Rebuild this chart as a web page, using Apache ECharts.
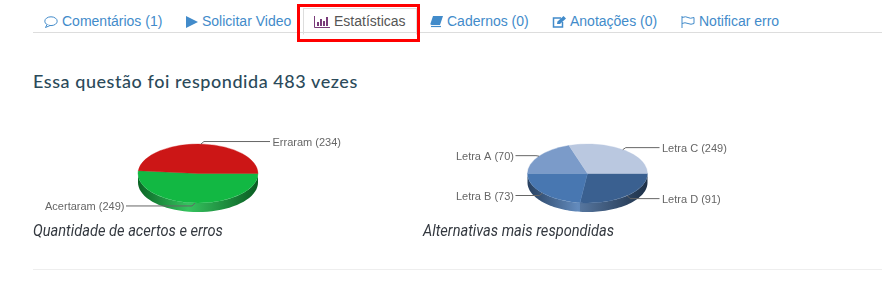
<!DOCTYPE html>
<html>
<head>
<meta charset="utf-8">
<title>Estatísticas</title>
<script src="https://cdn.jsdelivr.net/npm/echarts@6/dist/echarts.min.js"></script>
<style>
html, body { margin: 0; padding: 0; background: #fff; }
body { width: 882px; height: 287px; overflow: hidden; position: relative; font-family: "Liberation Sans", Arial, sans-serif; }
#chart { position: absolute; left: 0; top: 0; width: 882px; height: 287px; }
.tab { position: absolute; top: 12px; font-size: 14px; line-height: 18px; color: #428bca; white-space: nowrap; }
.tab svg { vertical-align: -2px; margin-right: 4px; }
.line { position: absolute; left: 33px; right: 0; height: 1px; }
#active { position: absolute; left: 303px; top: 8px; width: 112px; height: 25px; border: 1px solid #ddd; border-bottom: 1px solid #fff; }
#redbox { position: absolute; left: 297px; top: 4px; width: 117px; height: 32px; border: 3px solid #f00; }
h4 { position: absolute; left: 33px; top: 70px; margin: 0; font: 500 18px Lato, sans-serif; letter-spacing: 0.56px; color: #2b4a5a; white-space: nowrap; }
.caption { position: absolute; top: 220px; font: italic 17px Roboto, sans-serif; color: #33383f; white-space: nowrap; transform: scaleX(0.86); transform-origin: left center; }
</style>
</head>
<body>
<div class="line" style="top:32px;background:#ddd"></div>
<div class="line" style="top:269px;background:#eee"></div>
<div id="active"></div>
<div id="redbox"></div>
<div class="tab" style="left:44px"><svg width="14" height="12" viewBox="0 0 14 12"><ellipse cx="7" cy="5.2" rx="6.2" ry="4.4" fill="none" stroke="#428bca"/><path d="M3 8.5L1.5 11.5L6 9.5" fill="#fff" stroke="#428bca"/></svg>Comentários (1)</div>
<div class="tab" style="left:186px"><svg width="12" height="12" viewBox="0 0 12 12"><path d="M0 0L12 6L0 12Z" fill="#428bca"/></svg>Solicitar Video</div>
<div class="tab" style="left:314px;color:#555"><svg width="16" height="12" viewBox="0 0 16 12"><path d="M0.5 0V11.5H16" fill="none" stroke="#7a3b7a"/><path d="M3 6h2v4H3zM6 3h2v7H6zM9 5h2v5H9zM12 1h2v9h-2z" fill="#7a3b7a"/></svg>Estatísticas</div>
<div class="tab" style="left:430px"><svg width="13" height="12" viewBox="0 0 13 12"><path d="M3 0H13L10 9H2Q0 9 .5 7.5Z" fill="#428bca"/><path d="M1 10.5H11" stroke="#428bca" stroke-width="1.2"/></svg>Cadernos (0)</div>
<div class="tab" style="left:552px"><svg width="14" height="12" viewBox="0 0 14 12"><path d="M9 2H1.5V11H10.5V6" fill="none" stroke="#428bca" stroke-width="1.5"/><path d="M5 8L5.5 5.5L11.5 0L14 2.5L8 8Z" fill="#428bca"/></svg>Anotações (0)</div>
<div class="tab" style="left:681px"><svg width="14" height="12" viewBox="0 0 14 12"><path d="M1 0V12M1 1.5Q5 0 7 1.5T13 1.5V7.5Q10 9 7 7.5T1 7.5" fill="none" stroke="#428bca"/></svg>Notificar erro</div>
<h4>Essa questão foi respondida 483 vezes</h4>
<div id="chart"></div>
<script>
// contagens escritas nos rotulos
var resultNames = ['Acertaram', 'Erraram'];
var resultCounts = [249, 234];
var resultShares = [249, 234];
var resultColors = ['#12b843', '#cc1616'];

var letterNames = ['Letra D', 'Letra B', 'Letra A', 'Letra C'];
var letterCounts = [91, 73, 70, 249];
// o desenho nao segue os rotulos: fatias, em %
var letterShares = [27, 23, 20, 30];
var letterColors = ['#3a6090', '#4877b1', '#7b9bc9', '#bac8e0'];

var captions = ['Quantidade de acertos e erros', 'Alternativas mais respondidas'];

var RX = 60, RY = 29.5, DEPTH = 9, CY = 173.5;

function shade(hex, k) {
    var c = echarts.color.parse(hex);
    var f = function (v) { return Math.round(k < 1 ? v * k : v + (255 - v) * (k - 1)); };
    return 'rgb(' + f(c[0]) + ',' + f(c[1]) + ',' + f(c[2]) + ')';
}

function wallPoints(cx, a0, a1) {
    var top = [], bottom = [];
    for (var i = 0; i <= 40; i++) {
        var a = a0 + (a1 - a0) * i / 40;
        var x = cx + RX * Math.cos(a), y = CY + RY * Math.sin(a);
        top.push([x, y]);
        bottom.unshift([x, y + DEPTH]);
    }
    return top.concat(bottom);
}

function pieSeries(names, counts, shares, colors, cx, lift) {
    var total = shares.reduce(function (a, b) { return a + b; }, 0);
    return {
        type: 'custom',
        coordinateSystem: 'none',
        silent: true,
        data: shares,
        renderItem: function (params, api) {
            var i = params.dataIndex, before = 0;
            for (var k = 0; k < i; k++) before += shares[k];
            var start = before / total * Math.PI * 2;
            var end = start + api.value(0) / total * Math.PI * 2;
            var mid = (start + end) / 2;
            var base = colors[i];
            var children = [];

            // parede lateral, so na metade da frente
            var wallEnd = Math.min(end, Math.PI);
            if (start < Math.PI) {
                children.push({
                    type: 'polygon',
                    shape: { points: wallPoints(cx, start, wallEnd) },
                    style: {
                        fill: {
                            type: 'linear', global: true,
                            x: cx - RX, y: 0, x2: cx + RX, y2: 0,
                            colorStops: [
                                { offset: 0, color: shade(base, 0.55) },
                                { offset: 0.42, color: shade(base, 1.15) },
                                { offset: 1, color: shade(base, 0.5) }
                            ]
                        }
                    }
                });
            }
            children.push({
                type: 'sector',
                x: cx, y: CY, scaleY: RY / RX,
                shape: { cx: 0, cy: 0, r0: 0, r: RX, startAngle: start, endAngle: end, clockwise: true },
                style: { fill: base, stroke: base, lineWidth: 0.5 }
            });

            // linha guia e rotulo
            var ax = cx + RX * Math.cos(mid), ay = CY + RY * Math.sin(mid);
            var right = Math.cos(mid) >= 0;
            var endX = cx + (right ? 72 : -72);
            var ly = ay + lift[i];
            children.push({
                type: 'polyline',
                shape: { points: [[ax, ay], [ax + (right ? 3 : -3), ly], [endX, ly]] },
                style: { fill: 'none', stroke: '#666', lineWidth: 1 }
            });
            children.push({
                type: 'text',
                x: endX + (right ? 2.5 : -1.5), y: ly + 1.2,
                style: {
                    text: names[i] + ' (' + counts[i] + ')',
                    align: right ? 'left' : 'right',
                    verticalAlign: 'middle',
                    fill: '#666',
                    font: '11px "Liberation Sans", Arial, sans-serif'
                }
            });
            return { type: 'group', children: children };
        }
    };
}

var chart = echarts.init(document.getElementById('chart'), null, { renderer: 'canvas' });
chart.setOption({
    animation: false,
    series: [
        pieSeries(resultNames, resultCounts, resultShares, resultColors, 198, [3, -2.5]),
        pieSeries(letterNames, letterCounts, letterShares, letterColors, 587.5, [3, 2.5, -0.5, -2])
    ]
});

captions.forEach(function (text, i) {
    var el = document.createElement('div');
    el.className = 'caption';
    el.style.left = (i == 0 ? 33 : 423) + 'px';
    el.textContent = text;
    document.body.appendChild(el);
});
</script>
</body>
</html>
